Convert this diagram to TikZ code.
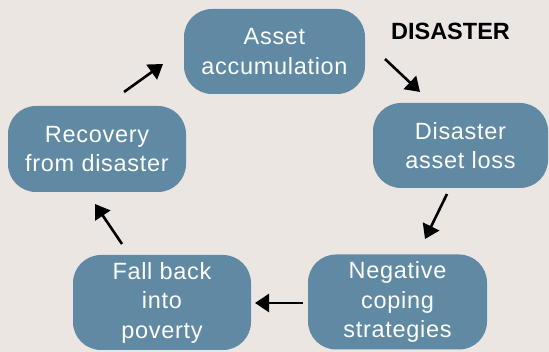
\documentclass[tikz,border=0pt]{standalone}
\usepackage{fontspec}
\setmainfont[LetterSpace=3]{Liberation Sans}
\newfontfamily\boldfont{Liberation Sans}
\usetikzlibrary{arrows.meta}
\definecolor{bgc}{RGB}{235,230,226}
\definecolor{boxc}{RGB}{96,137,163}
\tikzset{
  stagebox/.style={draw=none, fill=boxc, rounded corners=28pt, inner sep=0pt,
    text=white, align=center, font=\fontsize{23.5}{29.5}\selectfont},
  flowarrow/.style={line width=2.6pt, -{Triangle[length=14pt,width=18pt]}, black}
}
\begin{document}
\begin{tikzpicture}[x=1pt,y=-1pt]
\fill[bgc] (0,0) rectangle (549,352);
\useasboundingbox (0,0) rectangle (549,352);
\node[stagebox, minimum width=181pt, minimum height=85pt] (acc) at (274.5,51.5) {Asset\\accumulation};
\node[stagebox, minimum width=175pt, minimum height=85pt] (loss) at (460.5,145.5) {Disaster\\asset loss};
\node[stagebox, minimum width=178pt, minimum height=86pt] (rec) at (97,149) {Recovery\\from disaster};
\node[stagebox, minimum width=178pt, minimum height=95pt] (fall) at (162,302.5) {Fall back\\into\\poverty};
\node[stagebox, minimum width=179pt, minimum height=95pt] (neg) at (397.5,302) {Negative\\coping\\strategies};
\node[anchor=base, inner sep=0pt, font=\boldfont\bfseries\fontsize{23.5}{27}\selectfont] (dis) at (450.5,40) {DISASTER};
\coordinate (a1s) at (124,92); \coordinate (a1e) at (163,64);
\coordinate (a2s) at (385,59); \coordinate (a2e) at (420,92);
\coordinate (a3s) at (447,194); \coordinate (a3e) at (425,239);
\coordinate (a4s) at (303,303); \coordinate (a4e) at (255,303);
\coordinate (a5s) at (122,244); \coordinate (a5e) at (95,204);
\draw[flowarrow] (a1s) -- (a1e);
\draw[flowarrow] (a2s) -- (a2e);
\draw[flowarrow] (a3s) -- (a3e);
\draw[flowarrow] (a4s) -- (a4e);
\draw[flowarrow] (a5s) -- (a5e);
\end{tikzpicture}
\end{document}
